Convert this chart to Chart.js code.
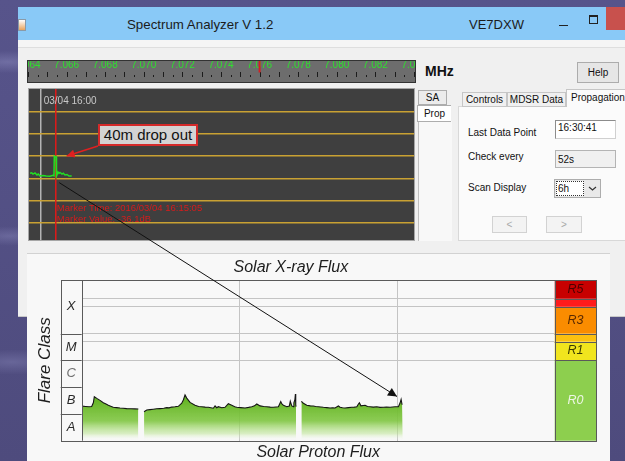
<!DOCTYPE html>
<html><head><meta charset="utf-8">
<script src="https://cdn.jsdelivr.net/npm/chart.js@4.4.1/dist/chart.umd.min.js"></script>
<style>
*{box-sizing:border-box}
html,body{margin:0;padding:0}
body{width:625px;height:461px;overflow:hidden;font-family:"Liberation Sans",Arial,sans-serif}
#root{position:relative;width:625px;height:461px;overflow:hidden;
 background:
  radial-gradient(ellipse 70px 16px at 8px 62px, rgba(160,160,210,.35), transparent 70%),
  radial-gradient(ellipse 60px 14px at 10px 236px, rgba(160,160,210,.3), transparent 70%),
  radial-gradient(ellipse 80px 18px at 12px 362px, rgba(160,160,210,.3), transparent 70%),
  linear-gradient(180deg,#57548b 0%,#4e4b7d 100%);}
.a{position:absolute}
canvas{display:block}
.ui{font-size:10px;color:#111;white-space:nowrap;line-height:12px}
.tab{border:1px solid #c6c6c6;background:#f0f0f0;text-align:center;font-size:10px;line-height:13px;color:#111}
.box{border:1px solid #8c8c8c;border-right-color:#d0d0d0;border-bottom-color:#d0d0d0;background:#fff;font-size:10px;padding-left:2px;color:#111}
.btn{border:1px solid #d2d2d2;background:#f3f3f3;color:#a8a8a8;text-align:center;font-size:10px;line-height:15px}
</style></head><body><div id="root">

<!-- window -->
<div class="a" style="left:18px;top:7px;width:607px;height:310px;background:#f0f0f0;border-bottom:1px solid #c8c8c8"></div>
<div class="a" style="left:18px;top:7px;width:607px;height:33px;background:#89c9f7"></div>
<div class="a" style="left:18px;top:40px;width:607px;height:8px;background:#f5f5f5;border-bottom:1px solid #dedede"></div>
<div class="a" style="left:18px;top:19px;width:8px;height:12px;background:linear-gradient(#ffffff,#e9a35c);border:1px solid #8a9aa8"></div>
<div class="a" style="left:127px;top:17px;font-size:13.3px;line-height:15px;color:#1b1b1b;white-space:nowrap">Spectrum Analyzer V 1.2</div>
<div class="a" style="left:469px;top:17px;font-size:13px;line-height:15px;color:#1b1b1b">VE7DXW</div>
<div class="a" style="left:559px;top:25px;width:9px;height:1px;background:#222"></div>
<div class="a" style="left:589px;top:15px;width:9px;height:9px;border:1px solid #222;border-top-width:2px"></div>
<div class="a" style="left:606px;top:7px;width:19px;height:23px;background:#c8514d"></div>

<!-- frequency ruler -->
<div class="a" style="left:27px;top:60px;width:389px;height:23px;border:1px solid #333;background:#6d6d6d"></div>
<div class="a" style="left:28px;top:61px;width:387px;height:21px;overflow:hidden">
 <canvas id="ruler" class="a" style="left:-30px;top:0" width="447" height="21"></canvas>
</div>
<div class="a" style="left:425px;top:64px;font-weight:bold;font-size:14px;line-height:15px;color:#111">MHz</div>
<div class="a" style="left:577px;top:62px;width:42px;height:21px;border:1px solid #acacac;background:#e6e6e6;text-align:center;font-size:10px;line-height:19px;color:#111">Help</div>

<!-- spectrum panel -->
<div class="a" style="left:28px;top:88px;width:387px;height:153px;border:1px solid #a6a6a6;background:#3f3f3f"></div>
<canvas id="spec" class="a" style="left:29px;top:89px" width="385" height="151"></canvas>

<div class="a tab" style="left:418px;top:90px;width:29px;height:15px;background:#ececec;border-color:#adadad">SA</div>
<div class="a" style="left:418px;top:121px;width:34px;height:120px;background:#f8f8f8;border-left:1px solid #c0c0c0"></div>
<div class="a tab" style="left:417px;top:105px;width:34px;height:17px;background:#fff;border-color:#adadad;border-right:none;line-height:15px">Prop</div>

<!-- right panel -->
<div class="a" style="left:458px;top:106px;width:170px;height:135px;background:#fbfbfb;border:1px solid #d8d8d8"></div>
<div class="a tab" style="left:462px;top:92px;width:45px;height:15px">Controls</div>
<div class="a tab" style="left:507px;top:92px;width:59px;height:15px">MDSR Data</div>
<div class="a tab" style="left:566px;top:89px;width:62px;height:18px;background:#fbfbfb;border-bottom:none;line-height:15px;text-align:left;padding-left:4px">Propagation</div>
<div class="a ui" style="left:468px;top:127px">Last Data Point</div>
<div class="a box" style="left:555px;top:120px;width:61px;height:19px;line-height:14px">16:30:41</div>
<div class="a ui" style="left:468px;top:151px">Check every</div>
<div class="a box" style="left:555px;top:150px;width:61px;height:18px;line-height:18px;background:#f0f0f0;border-color:#b4b4b4">52s</div>
<div class="a ui" style="left:468px;top:182px">Scan Display</div>
<div class="a" style="left:554px;top:179px;width:47px;height:19px;border:1px solid #adadad;background:#e9e9e9"></div>
<div class="a" style="left:556px;top:181px;width:28px;height:15px;border:1px dotted #333;background:#fff;font-size:10px;line-height:13px;padding-left:1px;color:#111">6h</div>
<svg class="a" style="left:588px;top:185px" width="9" height="7"><path d="M1,2 L4.5,5 L8,2" fill="none" stroke="#333" stroke-width="1.2"/></svg>
<div class="a btn" style="left:492px;top:216px;width:35px;height:17px">&lt;</div>
<div class="a btn" style="left:546px;top:216px;width:36px;height:17px">&gt;</div>

<!-- x-ray image -->
<div class="a" style="left:27px;top:253px;width:583px;height:208px;background:#f8f8f8;border-top:1px solid #d2d2d2"></div>
<canvas id="xray" class="a" style="left:27px;top:255px" width="583" height="208"></canvas>

<!-- annotations -->
<div class="a" style="left:98px;top:124px;width:100px;height:22px;border:2px solid #d42a2a;background:#d3d3d3;text-align:center;font-size:15px;line-height:18px;color:#111;z-index:5">40m drop out</div>
<svg class="a" style="left:0;top:0;z-index:6;pointer-events:none" width="625" height="461">
 <defs>
  <marker id="hr" viewBox="0 0 10 10" refX="10" refY="5" markerUnits="userSpaceOnUse" markerWidth="11" markerHeight="8" orient="auto"><path d="M0,0 L10,5 L0,10 z" fill="#e02020"/></marker>
  <marker id="hb" viewBox="0 0 10 10" refX="10" refY="5" markerUnits="userSpaceOnUse" markerWidth="13" markerHeight="9" orient="auto"><path d="M0,0 L10,5 L0,10 z" fill="#111"/></marker>
 </defs>
 <line x1="98" y1="146" x2="66.7" y2="156" stroke="#e02020" stroke-width="1.5" marker-end="url(#hr)"/>
 <line x1="59.3" y1="182.7" x2="397" y2="396.5" stroke="#111" stroke-width="1" marker-end="url(#hb)"/>
</svg>
</div>
<script>
Chart.defaults.font.family = '"Liberation Sans", Arial, sans-serif';
Chart.defaults.animation = false;

/* ---------- frequency ruler ---------- */
const rulerLabels = [7.064, 7.066, 7.068, 7.070, 7.072, 7.074, 7.076, 7.078, 7.080, 7.082, 7.084];
const rulerMin = 7.062446, rulerMax = 7.085607;
const tuneFreq = 7.0760;

/* ---------- spectrum (propagation) trace ---------- */
const specMinutes = [-10.7, -9.0, -7.7, -5.7, -3.7, -2.4, -0.7, 2.3, 5.3, 9.3, 12.3, 13.3, 13.6, 14.4, 15.3, 15.6, 16.0, 17.3, 18.3, 19.3, 21.3, 22.6, 24.3, 26.3, 28.3, 31.0];
const specLevel   = [-37.7, -37.5, -38.1, -37.6, -38.5, -38.1, -39.0, -38.8, -39.0, -39.1, -38.7, -38.9, -30.0, -30.3, -30.2, -35.5, -39.0, -37.2, -37.8, -37.4, -38.1, -37.7, -38.5, -38.3, -39.0, -39.0];
const specGridLevels = [-10, -20, -30, -40, -50, -60];
const specStartLabel = '03/04 16:00';
const markerMinute = 15.08;
const markerLines = ['Marker Time: 2016/03/04 16:15:05', 'Marker Value: -36.1dB'];

/* ---------- solar X-ray flux ---------- */
const xrayHours = [0.05,0.6,1.1,1.52,1.77,1.92,2.3,2.79,3.29,3.7,4.05,4.5,4.81,5.3,5.83,6.3,6.85,7.5,8.1,8.62,
 9.0,
 9.49,9.9,10.4,10.9,11.4,11.92,12.5,12.94,13.3,13.7,14.2,14.71,15.23,15.47,15.73,15.99,16.49,17.25,17.8,18.27,18.8,19.28,20.04,20.3,20.55,20.8,21.32,21.82,22.32,22.84,23.3,23.6,24.2,24.87,25.4,25.89,26.3,26.65,27.15,27.7,28.17,28.7,29.18,29.94,30.15,30.3,30.45,30.7,31.22,31.61,31.75,31.83,31.98,32.22,32.3,32.45,32.53,32.58,32.63,
 33.0,
 33.44,33.74,34.26,34.8,35.27,35.6,36.03,36.4,36.79,37.3,37.81,38.2,38.57,39.07,39.33,39.7,40.09,40.6,41.11,41.5,41.88,42.1,42.27,42.5,43.14,43.5,43.9,44.4,44.92,45.4,45.93,46.4,46.95,47.3,47.71,48.21,48.47,48.62,48.77,48.88];
const xrayFlux = [1.95e-7,1.9e-7,1.85e-7,1.9e-7,2.6e-7,4.4e-7,3.8e-7,3.2e-7,2.6e-7,2.35e-7,2.1e-7,1.9e-7,1.78e-7,1.72e-7,1.66e-7,1.62e-7,1.58e-7,1.55e-7,1.54e-7,1.53e-7,
 null,
 1.2e-7,1.4e-7,1.45e-7,1.5e-7,1.55e-7,1.58e-7,1.62e-7,1.72e-7,1.68e-7,1.8e-7,1.85e-7,1.92e-7,2.5e-7,3.3e-7,5.1e-7,3.9e-7,2.7e-7,2.1e-7,1.9e-7,1.86e-7,1.8e-7,1.77e-7,1.63e-7,1.98e-7,1.7e-7,1.86e-7,1.7e-7,1.77e-7,2.4e-7,2.1e-7,1.85e-7,1.77e-7,1.72e-7,1.66e-7,1.75e-7,1.86e-7,2.0e-7,2.35e-7,2.0e-7,1.9e-7,1.86e-7,1.8e-7,1.77e-7,1.86e-7,2.4e-7,2.9e-7,2.4e-7,2.1e-7,1.86e-7,1.98e-7,2.96e-7,2.96e-7,1.98e-7,1.86e-7,2.6e-7,3.4e-7,5.5e-7,2.2e-7,1.86e-7,
 null,
 2.96e-7,2.5e-7,2.1e-7,2.0e-7,1.98e-7,1.9e-7,1.86e-7,1.82e-7,1.77e-7,1.72e-7,1.66e-7,1.7e-7,1.66e-7,1.98e-7,1.77e-7,1.7e-7,1.66e-7,1.72e-7,1.77e-7,1.8e-7,1.86e-7,2.3e-7,2.6e-7,2.0e-7,2.1e-7,1.9e-7,1.86e-7,1.8e-7,1.86e-7,1.75e-7,1.77e-7,1.8e-7,1.77e-7,1.82e-7,1.86e-7,1.86e-7,2.6e-7,3.5e-7,2.2e-7,2.2e-7];
const dayLines = [24, 48];
const fluxGrid = [1e-5, 5e-5, 1e-4, 1e-3, 2e-3];
const classNames = ['A', 'B', 'C', 'M', 'X'];
const classEdges = [1e-8, 1e-7, 1e-6, 1e-5, 1e-4, 1e-2];
const rNames  = ['R0', 'R1', 'R2', 'R3', 'R4', 'R5'];
const rFrom   = [1e-8, 1e-5, 5e-5, 1e-4, 1e-3, 2e-3];
const rTo     = [1e-5, 5e-5, 1e-4, 1e-3, 2e-3, 1e-2];
const rColors = ['#8dcf4e', '#f1e51e', '#fcc010', '#fa8c00', '#ff1c1c', '#c80000'];
const rText   = ['#eef6e6', '#3a3a00', null, '#5a2a00', null, '#4a0000'];

/* ---------- ruler chart ---------- */
const rulerDeco = {
  id: 'rulerDeco',
  afterDraw(chart) {
    const {ctx, chartArea: a, scales: {x}} = chart;
    ctx.save();
    ctx.strokeStyle = '#1c1c1c'; ctx.lineWidth = 1;
    const k0 = Math.ceil(x.min * 2000), k1 = Math.floor(x.max * 2000);
    for (let k = k0; k <= k1; k++) {
      const px = Math.round(x.getPixelForValue(k / 2000)) + 0.5;
      const major = k % 2 === 0;
      ctx.beginPath();
      ctx.moveTo(px, a.top + (major ? 0.5 : 3.5));
      ctx.lineTo(px, a.top + 5.5);
      ctx.stroke();
    }
    const tx = x.getPixelForValue(tuneFreq);
    ctx.strokeStyle = '#d42020'; ctx.lineWidth = 2;
    ctx.beginPath(); ctx.moveTo(tx, 0); ctx.lineTo(tx, a.top + 1); ctx.stroke();
    ctx.restore();
  }
};
new Chart(document.getElementById('ruler'), {
  type: 'line',
  data: {datasets: []},
  options: {
    responsive: false, animation: false,
    layout: {padding: 0, autoPadding: false},
    plugins: {legend: {display: false}, tooltip: {enabled: false}},
    scales: {
      x: {type: 'linear', position: 'top', min: rulerMin, max: rulerMax,
          afterBuildTicks(s) { s.ticks = rulerLabels.map(v => ({value: v})); },
          ticks: {autoSkip: false, maxRotation: 0, minRotation: 0, padding: 0, color: '#2ee02e',
                  font: {size: 10}, callback: v => Number(v).toFixed(3)},
          grid: {display: false, drawTicks: false}, border: {display: false}},
      y: {display: false, min: 0, max: 1}
    }
  },
  plugins: [rulerDeco]
});

/* ---------- spectrum chart ---------- */
const specDeco = {
  id: 'specDeco',
  beforeDatasetsDraw(chart) {
    const {ctx, chartArea: a, scales: {x}} = chart;
    const mx = x.getPixelForValue(markerMinute);
    ctx.save();
    ctx.strokeStyle = '#e01a1a'; ctx.lineWidth = 1.5;
    ctx.beginPath(); ctx.moveTo(mx, a.top); ctx.lineTo(mx, a.bottom); ctx.stroke();
    ctx.restore();
  },
  afterDatasetsDraw(chart) {
    const {ctx, chartArea: a, scales: {x}} = chart;
    const mx = x.getPixelForValue(markerMinute);
    ctx.save();
    ctx.textBaseline = 'middle';
    ctx.font = '10px "Liberation Sans", Arial';
    ctx.fillStyle = '#c8c8c8';
    ctx.fillText(specStartLabel, x.getPixelForValue(0) + 3, a.top + 12);
    ctx.font = '9.5px "Liberation Sans", Arial';
    ctx.fillStyle = '#d41c1c';
    ctx.fillText(markerLines[0], mx + 1, a.top + 119.5);
    ctx.fillText(markerLines[1], mx + 1, a.top + 130);
    ctx.restore();
  }
};
new Chart(document.getElementById('spec'), {
  type: 'line',
  data: {datasets: [{
    data: specMinutes.map((m, i) => ({x: m, y: specLevel[i]})),
    borderColor: '#22e022', borderWidth: 1.5, pointRadius: 0, tension: 0, fill: false
  }]},
  options: {
    responsive: false, animation: false,
    layout: {padding: 0, autoPadding: false},
    plugins: {legend: {display: false}, tooltip: {enabled: false}},
    scales: {
      x: {type: 'linear', min: -11.7, max: 373.3,
          afterBuildTicks(s) { s.ticks = [{value: 0}]; },
          ticks: {display: false}, grid: {color: '#b4b4b4', lineWidth: 1.5, drawTicks: false}, border: {display: false}},
      y: {type: 'linear', min: -67.8, max: 0.2,
          afterBuildTicks(s) { s.ticks = specGridLevels.map(v => ({value: v})); },
          ticks: {display: false}, grid: {color: '#c9a133', lineWidth: 1.5, drawTicks: false}, border: {display: false}}
    }
  },
  plugins: [specDeco]
});

/* ---------- X-ray chart ---------- */
const xrayDeco = {
  id: 'xrayDeco',
  afterDraw(chart) {
    const {ctx, chartArea: a, scales: {y}} = chart;
    const colL = a.left - 21, rL = a.right, rR = a.right + 41.7;
    const line = (x1, y1, x2, y2) => { ctx.beginPath(); ctx.moveTo(x1, y1); ctx.lineTo(x2, y2); ctx.stroke(); };
    ctx.save();
    rFrom.forEach((f, i) => {
      const yt = y.getPixelForValue(rTo[i]), yb = y.getPixelForValue(f);
      ctx.fillStyle = rColors[i];
      ctx.fillRect(rL, yt, rR - rL, yb - yt);
    });
    ctx.strokeStyle = '#5a5a5a'; ctx.lineWidth = 1;
    rFrom.forEach(f => { if (f > classEdges[0]) { const yy = Math.round(y.getPixelForValue(f)) + 0.5; line(rL, yy, rR, yy); } });
    classEdges.slice(1, -1).forEach(v => { const yy = Math.round(y.getPixelForValue(v)) + 0.5; line(colL, yy, a.left, yy); });
    ctx.strokeRect(Math.round(colL) + 0.5, Math.round(a.top) + 0.5, Math.round(rR - colL) - 1, Math.round(a.bottom - a.top));
    line(Math.round(a.left) + 0.5, a.top, Math.round(a.left) + 0.5, a.bottom);
    line(Math.round(rL) + 0.5, a.top, Math.round(rL) + 0.5, a.bottom);
    ctx.textAlign = 'center'; ctx.textBaseline = 'middle';
    ctx.font = 'italic 13px "Liberation Sans", Arial';
    classNames.forEach((n, i) => {
      const ym = y.getPixelForValue(Math.sqrt(classEdges[i] * classEdges[i + 1]));
      ctx.fillStyle = n === 'C' ? '#707070' : '#2a2a2a';
      ctx.fillText(n, (colL + a.left) / 2, ym);
    });
    ctx.font = 'italic 12.5px "Liberation Sans", Arial';
    rNames.forEach((n, i) => {
      if (!rText[i]) return;
      const ym = y.getPixelForValue(Math.sqrt(rFrom[i] * rTo[i]));
      ctx.fillStyle = rText[i];
      ctx.fillText(n, (rL + rR) / 2, ym);
    });
    ctx.restore();
  }
};
const italic16 = {size: 16, style: 'italic', weight: 'normal'};
new Chart(document.getElementById('xray'), {
  type: 'line',
  data: {datasets: [{
    data: xrayHours.map((h, i) => ({x: h, y: xrayFlux[i]})),
    borderColor: '#151515', borderWidth: 1.1, pointRadius: 0, tension: 0, spanGaps: false,
    fill: 'start',
    backgroundColor(c) {
      const ch = c.chart, a = ch.chartArea;
      if (!a) return 'rgba(120,190,60,0.6)';
      const g = ch.ctx.createLinearGradient(0, ch.scales.y.getPixelForValue(3e-7), 0, a.bottom);
      g.addColorStop(0, 'rgba(104,182,40,1)');
      g.addColorStop(0.5, 'rgba(128,198,66,0.9)');
      g.addColorStop(0.82, 'rgba(190,230,150,0.55)');
      g.addColorStop(1, 'rgba(255,255,255,0)');
      return g;
    }
  }]},
  options: {
    responsive: false, animation: false,
    layout: {padding: {left: 0, right: 55.3, top: 0, bottom: 0}, autoPadding: false},
    plugins: {
      legend: {display: false}, tooltip: {enabled: false},
      title: {display: true, text: 'Solar X-ray Flux', color: '#1e1e1e', font: italic16, padding: {top: 3.4, bottom: 2.4}}
    },
    scales: {
      x: {type: 'linear', min: 0, max: 72,
          afterBuildTicks(s) { s.ticks = dayLines.map(v => ({value: v})); },
          ticks: {display: false}, grid: {color: '#c4c4c4', drawTicks: false}, border: {display: false},
          title: {display: true, text: 'Solar Proton Flux', color: '#1e1e1e', font: italic16, padding: {top: 2.7, bottom: 0.4}}},
      y: {type: 'logarithmic', min: 1e-8, max: 1e-2,
          afterBuildTicks(s) { s.ticks = fluxGrid.map(v => ({value: v})); },
          ticks: {display: false}, grid: {color: '#c4c4c4', drawTicks: false}, border: {display: false},
          title: {display: true, text: 'Flare Class', color: '#1e1e1e', font: {size: 17, style: 'italic', weight: 'normal'}, padding: {top: 7.8, bottom: 26.5}}}
    }
  },
  plugins: [xrayDeco]
});
</script>
</body></html>
